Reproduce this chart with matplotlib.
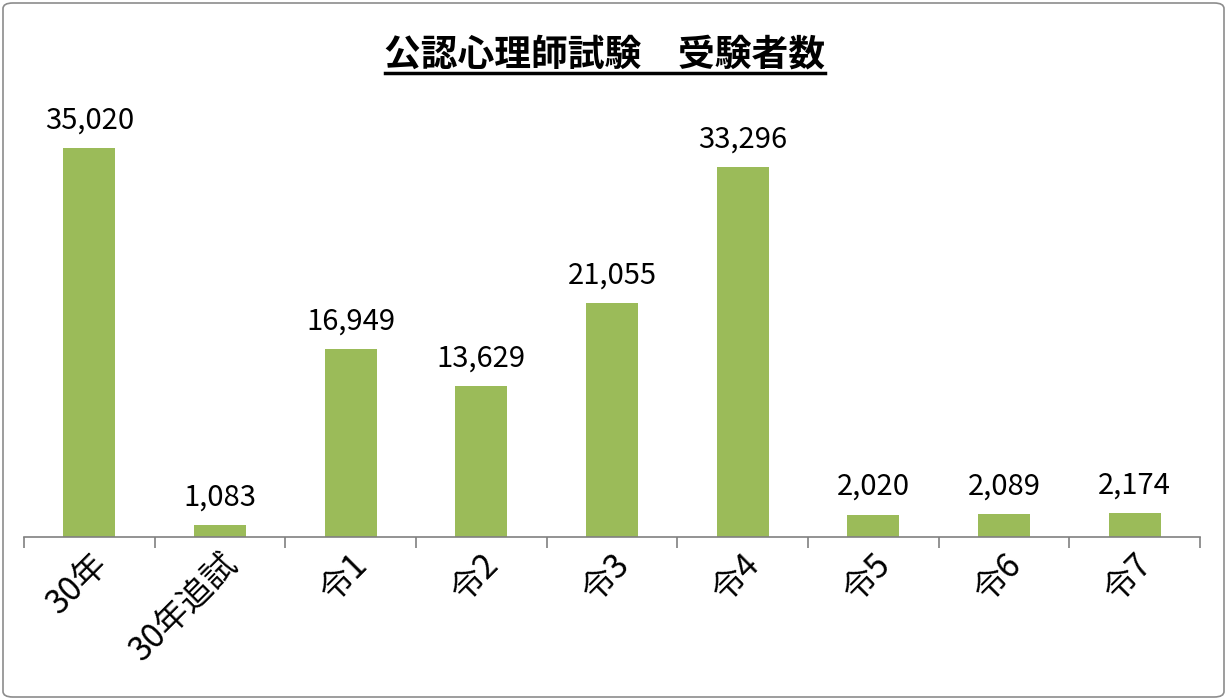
import matplotlib
matplotlib.use("Agg")
import matplotlib.pyplot as plt
from matplotlib.patches import FancyBboxPatch

plt.rcParams['font.family'] = ['Noto Sans CJK JP', 'DejaVu Sans']

categories = ["30年", "30年追試", "令1", "令2", "令3", "令4", "令5", "令6", "令7"]
values = [35020, 1083, 16949, 13629, 21055, 33296, 2020, 2089, 2174]
title = "公認心理師試験　受験者数"

fig = plt.figure(figsize=(12.27, 7.0), dpi=100)
ax = fig.add_axes([24/1227, 1-537/700, (1200-24)/1227, (537-93)/700])

x = list(range(len(categories)))
bars = ax.bar(x, values, width=0.4, color="#9BBB59")
ax.set_xlim(-0.5, len(categories)-0.5)
ax.set_ylim(0, 40000)

for xi, v in zip(x, values):
    ax.annotate(f"{v:,}", (xi, v), xytext=(0, 9), textcoords="offset points",
                ha="center", va="bottom", fontsize=21, color="black")

for s in ["top", "right", "left"]:
    ax.spines[s].set_visible(False)
ax.spines["bottom"].set_color("#808080")
ax.spines["bottom"].set_linewidth(1.2)
ax.set_yticks([])
ax.set_xticks([i - 0.5 for i in range(len(categories)+1)])
ax.set_xticklabels([])
ax.tick_params(axis="x", length=8, color="#808080", width=1.2)
ax.set_xticks(x, minor=True)
ax.set_xticklabels(categories, minor=True, rotation=45, ha="right", va="top",
                   rotation_mode="anchor", fontsize=24)
ax.tick_params(axis="x", which="minor", length=0, pad=7)

fig.text(0.493, 1-55/700, title, ha="center", va="center", fontsize=26.5,
         fontweight="bold")
fig.add_artist(plt.Line2D([385/1227, 825/1227], [1-73/700, 1-73/700],
                          color="black", linewidth=2.5, transform=fig.transFigure))

border = FancyBboxPatch((3/1227, 3/700), 1-6/1227, 1-6/700,
                        boxstyle="round,pad=0,rounding_size=0.008",
                        transform=fig.transFigure, fill=False,
                        edgecolor="#8c8c8c", linewidth=1.2)
fig.add_artist(border)

fig.savefig("out.png", dpi=100, facecolor="white")
